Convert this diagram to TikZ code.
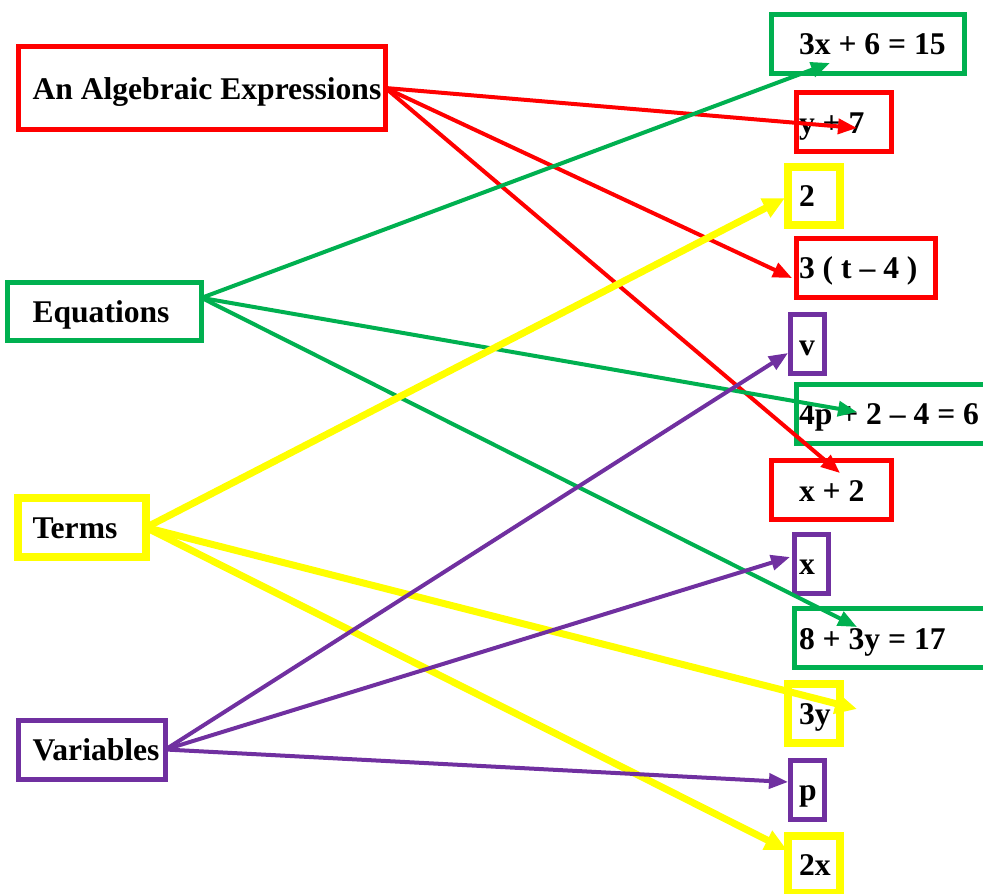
\documentclass[tikz,border=0pt]{standalone}
\usepackage{fontspec}
\setmainfont{Liberation Serif}
\usepackage{xcolor}
\usetikzlibrary{arrows.meta}

\definecolor{exred}{HTML}{FF0000}
\definecolor{eqgreen}{HTML}{00B050}
\definecolor{termyellow}{HTML}{FFFF00}
\definecolor{varpurple}{HTML}{7030A0}

\begin{document}
\begin{tikzpicture}[
  x=1pt, y=-1pt,
  card/.style={draw, rectangle, anchor=north west, line width=5pt, outer sep=0pt,
    text height=25pt, text depth=3pt, inner ysep=0pt,
    font=\bfseries\fontsize{31.6}{38}\selectfont},
  thick card/.style={card, line width=8pt},
  link/.style={line width=4pt, -{Triangle[length=19pt, width=15pt]}},
  thick link/.style={line width=7pt, -{Triangle[length=22pt, width=20pt]}},
]
\useasboundingbox (0,0) rectangle (983,894);

% Categories (left)
\node[card, draw=exred, minimum width=367pt, minimum height=83pt, inner xsep=14pt] (expr) at (18.5,46.5) {\makebox[339pt][l]{An Algebraic Expressions}};
\node[card, draw=eqgreen, minimum width=194pt, minimum height=58pt, inner xsep=25pt] (equ) at (7.5,282.5) {\makebox[144pt][l]{Equations}};
\node[thick card, draw=termyellow, minimum width=128pt, minimum height=59pt, inner xsep=14.5pt] (terms) at (18,498) {\makebox[99pt][l]{Terms}};
\node[card, draw=varpurple, minimum width=147pt, minimum height=59pt, inner xsep=14pt] (vars) at (18.5,720) {\makebox[119pt][l]{Variables}};

% Items (right)
\node[card, draw=eqgreen, minimum width=193.5pt, minimum height=59.5pt, inner xsep=28pt] (eq15) at (771,14) {\makebox[137.5pt][l]{3x + 6 = 15}};
\node[card, draw=exred, minimum width=95pt, minimum height=59pt, inner xsep=2.5pt] (y7) at (796.5,92.5) {\makebox[90pt][l]{y + 7}};
\node[thick card, draw=termyellow, minimum width=52pt, minimum height=58.5pt, inner xsep=11pt] (two) at (788,166.5) {\makebox[30pt][l]{2}};
\node[card, draw=exred, minimum width=139pt, minimum height=59.5pt, inner xsep=2.5pt] (t4) at (796.5,238) {\makebox[134pt][l]{3 ( t – 4 )}};
\node[card, draw=varpurple, minimum width=33.5pt, minimum height=59pt, inner xsep=8.5pt] (v) at (790.5,314.5) {\makebox[16.5pt][l]{v}};
\node[card, draw=eqgreen, minimum width=205pt, minimum height=58.5pt, inner xsep=2.5pt] (eq6) at (796.5,384.5) {\makebox[200pt][l]{4p + 2 – 4 = 6}};
\node[card, draw=exred, minimum width=120pt, minimum height=59pt, inner xsep=28pt] (x2) at (771,460.5) {\makebox[64pt][l]{x + 2}};
\node[card, draw=varpurple, minimum width=33.5pt, minimum height=58.5pt, inner xsep=4.5pt] (xv) at (794.5,534.5) {\makebox[24.5pt][l]{x}};
\node[card, draw=eqgreen, minimum width=205pt, minimum height=59pt, inner xsep=4.5pt] (eq17) at (794.5,608.5) {\makebox[196pt][l]{8 + 3y = 17}};
\node[thick card, draw=termyellow, minimum width=52pt, minimum height=58.5pt, inner xsep=11pt] (threey) at (788,684) {\makebox[30pt][l]{3y}};
\node[card, draw=varpurple, minimum width=33.5pt, minimum height=59pt, inner xsep=8.5pt] (p) at (790.5,760) {\makebox[16.5pt][l]{p}};
\node[thick card, draw=termyellow, minimum width=52pt, minimum height=57pt, inner xsep=11pt] (twox) at (788,836) {\makebox[30pt][l]{2x}};

% Arrow tips
\coordinate (tip-y7) at (857,128);
\coordinate (tip-t4) at (792,278);
\coordinate (tip-x2) at (840,473);
\coordinate (tip-eq15) at (830,63);
\coordinate (tip-eq6) at (857,412);
\coordinate (tip-eq17) at (857,627);
\coordinate (tip-two) at (785,198);
\coordinate (tip-threey) at (857,709);
\coordinate (tip-twox) at (787,850);
\coordinate (tip-v) at (788,353);
\coordinate (tip-xv) at (790,557);
\coordinate (tip-p) at (788,782);

% Expressions
\draw[link, exred] (expr.east) -- (tip-y7);
\draw[link, exred] (expr.east) -- (tip-t4);
\draw[link, exred] (expr.east) -- (tip-x2);

% Equations
\draw[link, eqgreen] (equ.8) -- (tip-eq15);
\draw[link, eqgreen] (equ.8) -- (tip-eq6);
\draw[link, eqgreen] (equ.8) -- (tip-eq17);

% Terms
\draw[thick link, termyellow] (terms.east) -- (tip-two);
\draw[thick link, termyellow] (terms.east) -- (tip-threey);
\draw[thick link, termyellow] (terms.east) -- (tip-twox);

% Variables
\draw[link, varpurple] (vars.east) -- (tip-v);
\draw[link, varpurple] (vars.east) -- (tip-xv);
\draw[link, varpurple] (vars.east) -- (tip-p);

\end{tikzpicture}
\end{document}
